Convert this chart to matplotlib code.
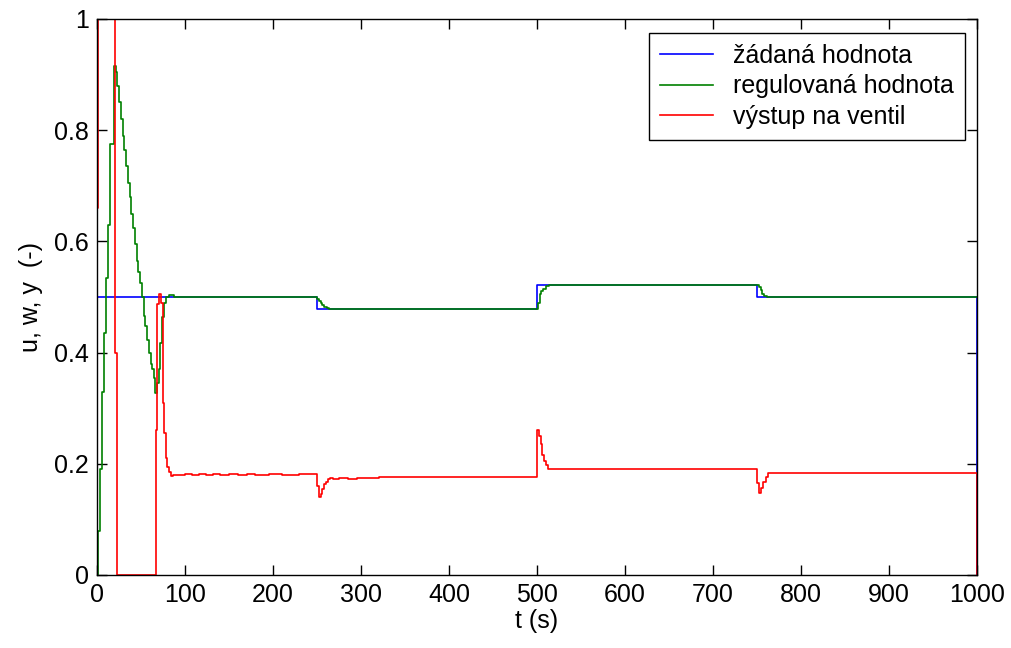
import numpy as np
import matplotlib
matplotlib.use("Agg")
import matplotlib.pyplot as plt

plt.rcParams['font.family'] = ['Liberation Sans', 'DejaVu Sans']

# zadana hodnota (w)
t_w = [0, 250, 250, 500, 500, 750, 750, 1000, 1000]
w = [0.5, 0.5, 0.478, 0.478, 0.521, 0.521, 0.5, 0.5, 0.0]

# regulovana hodnota (y) - vzorky, kresleno schodovite
t_y = [0, 1, 3, 5.5, 8, 10, 12.5, 15, 19.5, 21.5, 23, 25, 27, 29, 31, 33, 35, 37, 39,
       41, 43, 45, 47, 49, 51, 53, 55, 57, 59, 61, 63, 64.5, 66, 68, 70, 72, 74,
       76, 78, 82, 88,
       250, 252, 254, 256, 258, 261, 264,
       500, 501, 503, 505, 507, 510, 514,
       750, 752, 754, 756, 758, 761, 1000]
y = [0.0, 0.08, 0.19, 0.33, 0.435, 0.535, 0.63, 0.775, 0.915, 0.905, 0.88, 0.85,
     0.82, 0.79, 0.765, 0.735, 0.705, 0.68, 0.65, 0.625, 0.595, 0.565, 0.545,
     0.525, 0.5, 0.465, 0.447, 0.423, 0.4, 0.38, 0.37, 0.354, 0.327, 0.345, 0.37,
     0.417, 0.464, 0.489, 0.5, 0.503, 0.5,
     0.497, 0.493, 0.489, 0.485, 0.482, 0.48, 0.478,
     0.478, 0.49, 0.505, 0.51, 0.515, 0.519, 0.521,
     0.521, 0.518, 0.512, 0.506, 0.502, 0.5, 0.5]

# vystup na ventil (u)
t_u = [0, 0, 1, 21, 23, 66.5, 68, 70, 73, 74.5, 76, 78, 80, 82, 84, 86,
       100, 108, 116, 124, 132, 140, 150, 160, 170, 180, 195, 210, 230,
       250, 252, 254, 256, 258, 260, 262, 265, 268, 275, 285, 295, 305, 320,
       500, 502, 504, 506, 508, 510, 513, 520,
       750, 752, 754, 757, 760, 763, 767, 1000]
u = [0.0, 0.66, 1.0, 0.40, 0.0, 0.26, 0.487, 0.505, 0.49, 0.31, 0.255, 0.21,
     0.195, 0.185, 0.178, 0.18,
     0.181, 0.179, 0.181, 0.179, 0.181, 0.179, 0.181, 0.179, 0.181, 0.18,
     0.181, 0.18, 0.182,
     0.16, 0.14, 0.145, 0.155, 0.163, 0.168, 0.172, 0.175, 0.173, 0.175, 0.173,
     0.175, 0.174, 0.176,
     0.26, 0.25, 0.235, 0.215, 0.205, 0.197, 0.19, 0.19,
     0.165, 0.148, 0.157, 0.168, 0.176, 0.183, 0.183, 0.0]

fig = plt.figure(figsize=(10.11, 6.48), dpi=100)
ax = fig.add_axes([97/1011, 1 - 575/648, 880/1011, 556/648])

ax.plot(t_w, w, color=(0, 0, 1), lw=1.2, label='žádaná hodnota')
ax.plot(t_y, y, color=(0, 0.5, 0), lw=1.2, drawstyle='steps-post', label='regulovaná hodnota')
ax.plot(t_u, u, color=(1, 0, 0), lw=1.2, drawstyle='steps-post', label='výstup na ventil')

ax.set_xlim(0, 1000)
ax.set_ylim(0, 1)
ax.set_xticks(np.arange(0, 1001, 100))
ax.set_yticks([0, 0.2, 0.4, 0.6, 0.8, 1])
ax.set_yticklabels(['0', '0.2', '0.4', '0.6', '0.8', '1'])
ax.tick_params(direction='in', top=True, right=True, length=7, width=1, labelsize=18, pad=6)
for s in ax.spines.values():
    s.set_linewidth(1)

ax.set_xlabel('t (s)', fontsize=18, labelpad=1)
ax.set_ylabel('u, w, y  (-)', fontsize=18, labelpad=8)

leg = ax.legend(loc='upper right', bbox_to_anchor=(0.986, 0.975), borderaxespad=0,
                fancybox=False, edgecolor='black', framealpha=1, fontsize=18,
                handlelength=2.1, labelspacing=0.25, handletextpad=0.8, borderpad=0.45)
leg.get_frame().set_linewidth(1)

plt.savefig('out.png', dpi=100)
